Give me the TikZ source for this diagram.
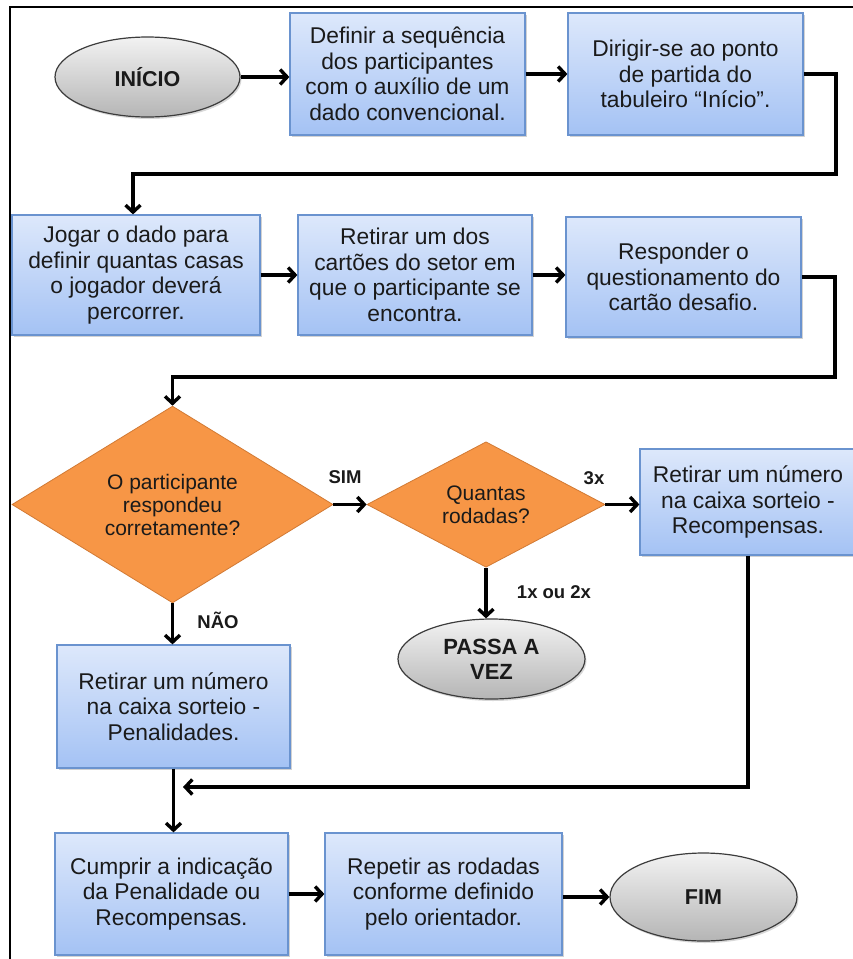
\documentclass[tikz,border=0pt]{standalone}
\usepackage{fontspec}
\setmainfont{Liberation Sans}
\usetikzlibrary{shapes.geometric,arrows.meta,shadows}
\definecolor{boxtop}{HTML}{DDE8FB}
\definecolor{boxbot}{HTML}{A4C2F4}
\definecolor{boxborder}{HTML}{6A93CF}
\definecolor{elltop}{HTML}{F2F2F2}
\definecolor{ellbot}{HTML}{B5B5B5}
\definecolor{ellborder}{HTML}{3C3C3C}
\definecolor{orangefill}{HTML}{F79646}
\definecolor{orangeborder}{HTML}{D27A34}
\definecolor{txt}{HTML}{1A1A1A}
\begin{document}
\begin{tikzpicture}[x=1pt,y=-1pt,
  box/.style={rectangle, draw=boxborder, line width=1.2pt, top color=boxtop, bottom color=boxbot,
    align=center, inner sep=0pt, text=txt, font=\fontsize{22.8}{25.5}\selectfont,
    drop shadow={shadow xshift=1.5pt, shadow yshift=-2pt, opacity=0.35}},
  term/.style={ellipse, draw=ellborder, line width=1.2pt, top color=elltop, bottom color=ellbot,
    align=center, inner sep=0pt, text=txt, font=\bfseries\fontsize{21.5}{25}\selectfont,
    drop shadow={shadow xshift=1.5pt, shadow yshift=-2pt, opacity=0.3}},
  decision/.style={diamond, draw=orangeborder, line width=0.8pt, fill=orangefill,
    align=center, inner sep=0pt, text=txt, font=\fontsize{21}{23}\selectfont},
  lbl/.style={font=\bfseries\fontsize{18.5}{20}\selectfont, text=txt, inner sep=0pt},
  conn/.style={draw=black, line width=3.4pt, line join=miter, -{Straight Barb[length=7pt,width=15pt]}},
  frameline/.style={draw=black, line width=1.6pt}
]
\useasboundingbox (0,0) rectangle (853,959);
\fill[white] (0,0) rectangle (853,959);
\draw[frameline] (10,962) -- (10,7) -- (856,7);

% row 1
\node[term, minimum width=185pt, minimum height=80pt] (inicio) at (147.5,77) {INÍCIO};
\node[box, minimum width=235pt, minimum height=122pt] (b1) at (407.5,74)
  {Definir a sequência\\dos participantes\\com o auxílio de um\\dado convencional.};
\node[box, minimum width=235pt, minimum height=122pt] (b2) at (685.5,74)
  {Dirigir-se ao ponto\\de partida do\\tabuleiro “Início”.};

% row 2
\node[box, minimum width=248pt, minimum height=120pt] (b3) at (136,275)
  {Jogar o dado para\\definir quantas casas\\o jogador deverá\\percorrer.};
\node[box, minimum width=234pt, minimum height=120pt] (b4) at (415,275)
  {Retirar um dos\\cartões do setor em\\que o participante se\\encontra.};
\node[box, minimum width=235pt, minimum height=120pt] (b5) at (683.5,277)
  {Responder o\\questionamento do\\cartão desafio.};

% row 3
\node[decision, minimum width=321pt, minimum height=175pt] (d1) at (172.5,504.5)
  {O participante\\respondeu\\corretamente?};
\node[decision, minimum width=238pt, minimum height=119pt] (d2) at (486,504.5)
  {Quantas\\rodadas?};
\node[box, minimum width=216pt, minimum height=106pt] (b6) at (748,502)
  {Retirar um número\\na caixa sorteio -\\Recompensas.};
\node[term, minimum width=187pt, minimum height=80pt, font=\bfseries\fontsize{22}{25}\selectfont] (passa) at (491.5,659)
  {PASSA A\\VEZ};

% row 4
\node[box, minimum width=233pt, minimum height=123pt] (b7) at (173.5,706.5)
  {Retirar um número\\na caixa sorteio -\\Penalidades.};

% row 5
\node[box, minimum width=233pt, minimum height=122pt] (b8) at (171.5,894)
  {Cumprir a indicação\\da Penalidade ou\\Recompensas.};
\node[box, minimum width=237pt, minimum height=122pt] (b9) at (443.5,894)
  {Repetir as rodadas\\conforme definido\\pelo orientador.};
\node[term, minimum width=187pt, minimum height=88pt] (fim) at (703.5,897) {FIM};

% labels
\node[lbl] (sim) at (345,477) {SIM};
\node[lbl] (nao) at (218,620) {NÃO};
\node[lbl] (tres) at (594,478) {3x};
\node[lbl] (umdois) at (554,592) {1x ou 2x};

% connector helpers
\coordinate (c1) at (836,174);
\coordinate (c2) at (133,174);
\coordinate (c3) at (835,377);
\coordinate (c4) at (172.5,377);
\coordinate (c5) at (183,787);

% connectors
\draw[conn] (inicio.east) -- (inicio.east -| b1.west);
\draw[conn] (b1.east) -- (b1.east -| b2.west);
\draw[conn] (b2.east) -| (c1) -- (c2) -- (c2 |- b3.north);
\draw[conn] (b3.east) -- (b3.east -| b4.west);
\draw[conn] (b4.east) -- (b4.east -| b5.west);
\draw[conn] (b5.east) -| (c3) -- (c4) -- (d1.north);
\draw[conn] (d1.east) -- (d2.west);
\draw[conn] (d2.east) -- (d2.east -| b6.west);
\draw[conn] (d2.south) -- (d2.south |- passa.north);
\draw[conn] (d1.south) -- (d1.south |- b7.north);
\draw[conn] (b7.south) -- (b7.south |- b8.north);
\draw[conn] (b6.south) -- (b6.south |- c5) -- (c5);
\draw[conn] (b8.east) -- (b8.east -| b9.west);
\draw[conn] (b9.east |- fim.west) -- (fim.west);
\end{tikzpicture}
\end{document}
